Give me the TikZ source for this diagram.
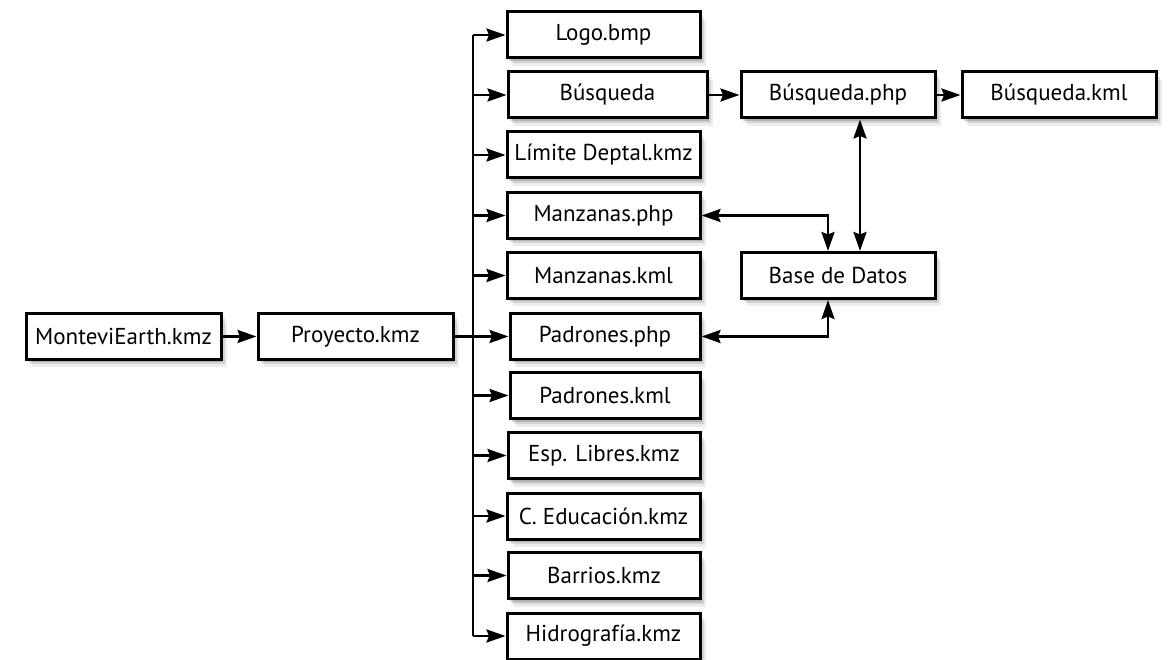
\documentclass[tikz,border=0pt]{standalone}
\usepackage{fontspec}
\setmainfont{PT Sans}
\usetikzlibrary{arrows.meta,shadows}
\tikzset{
  softshadow/.style={
    drop shadow={shadow xshift=2pt, shadow yshift=-3pt, opacity=0.15, fill=black},
    drop shadow={shadow xshift=4pt, shadow yshift=-5pt, opacity=0.11, fill=black},
    drop shadow={shadow xshift=6pt, shadow yshift=-8pt, opacity=0.07, fill=black}},
  filebox/.style={draw, line width=3pt, fill=white, minimum width=193pt,
    minimum height=46pt, inner sep=0pt, font=\fontsize{23}{26}\selectfont,
    softshadow},
  link/.style={line width=2.6pt, -{Stealth[length=19pt,width=13pt,inset=2.5pt]}},
  dlink/.style={line width=2.6pt, {Stealth[length=19pt,width=13pt,inset=2.5pt]}-{Stealth[length=19pt,width=13pt,inset=2.5pt]}},
}
\begin{document}
\begin{tikzpicture}[x=1pt,y=-1pt]
\useasboundingbox (0,0) rectangle (1173,660);
\clip (0,0) rectangle (1173,660);
% main chain
\node[filebox, minimum width=195pt] (mon)  at (123.5,336.5) {MonteviEarth.kmz};
\node[filebox, minimum width=195pt] (proy) at (355.5,336.5) {Proyecto.kmz};
% contents of the project
\node[filebox] (logo)  at (603.5,35)    {Logo.bmp};
\node[filebox, minimum width=199pt] (busq) at (607.5,95) {Búsqueda};
\node[filebox] (lim)   at (603.5,155)   {Límite Deptal.kmz};
\node[filebox] (mphp)  at (603.5,215.5) {Manzanas.php};
\node[filebox] (mkml)  at (603.5,275.5) {Manzanas.kml};
\node[filebox, minimum width=190pt] (pphp) at (605,336.5) {Padrones.php};
\node[filebox, minimum width=190pt] (pkml) at (605,395.5) {Padrones.kml};
\node[filebox, minimum width=192pt] (esp)  at (604,455.5) {Esp. Libres.kmz};
\node[filebox] (edu)   at (603.5,516)   {C. Educación.kmz};
\node[filebox, minimum width=192pt] (barr) at (604,575.5) {Barrios.kmz};
\node[filebox] (hidro) at (603.5,636)   {Hidrografía.kmz};
% search and database
\node[filebox, minimum width=194pt] (bphp) at (838,95)    {Búsqueda.php};
\node[filebox, minimum width=194pt] (bkml) at (1059,95)   {Búsqueda.kml};
\node[filebox, minimum width=194pt] (base) at (838,275.5) {Base de Datos};

\coordinate (trunk) at (473,0);
\coordinate (bx) at (828,0);
\coordinate (sx) at (860,0);
\draw[link] (mon) -- (proy);
\draw[line width=2.6pt] (proy.east) -- (proy.east -| trunk);
\draw[line width=2.6pt] (logo.west -| trunk) -- (hidro.west -| trunk);
\foreach \n in {logo,busq,lim,mphp,mkml,pphp,pkml,esp,edu,barr,hidro}
  \draw[link] (\n.west -| trunk) -- (\n.west);
\draw[link] (busq) -- (bphp);
\draw[link] (bphp) -- (bkml);
\draw[dlink] (mphp.east) -| (base.north -| bx);
\draw[dlink] (pphp.east) -| (base.south -| bx);
\draw[dlink] (bphp.south -| sx) -- (base.north -| sx);
\end{tikzpicture}
\end{document}
